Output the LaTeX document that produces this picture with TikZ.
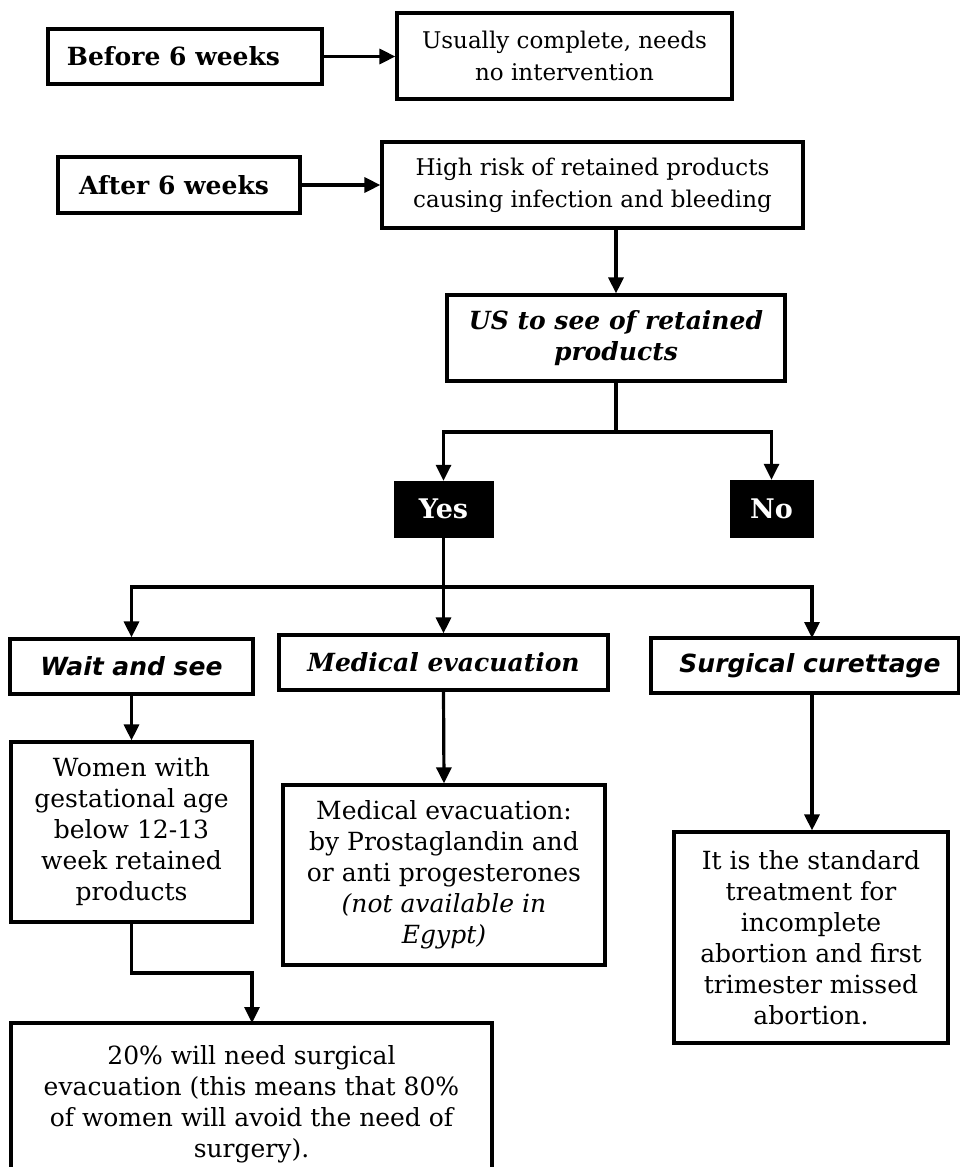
\documentclass[tikz,border=0pt]{standalone}
\usepackage{fontspec}
\setmainfont{DejaVu Serif}
\newfontfamily\altsans{DejaVu Sans}
\usetikzlibrary{arrows.meta}
\newcommand{\regA}{\rmfamily\fontsize{23}{31.7}\selectfont}
\newcommand{\regB}{\rmfamily\fontsize{25}{31}\selectfont}
\newcommand{\boldB}{\rmfamily\fontsize{25}{31}\selectfont\bfseries}
\tikzset{
  box/.style={draw, line width=3.2pt, inner sep=0pt, align=center, font=\regB},
  blk/.style={draw, fill=black, text=white, inner sep=0pt, align=center, font=\rmfamily\fontsize{27}{31}\selectfont\bfseries},
  arr/.style={line width=3.2pt, -{Triangle[length=16pt,width=15pt]}},
  conn/.style={line width=3.2pt}
}
\begin{document}
\begin{tikzpicture}[x=1pt,y=-1pt]
\useasboundingbox (0,0) rectangle (960,1167);
\clip (0,0) rectangle (960,1167);
% top
\node[box, minimum width=274pt, minimum height=55pt, font=\boldB] (before) at (185,56.5) {Before 6 weeks\hspace*{23pt}};
\node[box, minimum width=335pt, minimum height=86pt, font=\regA] (usually) at (564.5,56) {Usually complete, needs\\no intervention};
\node[box, minimum width=242pt, minimum height=56pt, font=\boldB] (after) at (179,185) {After 6 weeks\hspace*{10pt}};
\node[box, minimum width=421pt, minimum height=86pt, font=\regA] (high) at (592.5,185) {High risk of retained products\\causing infection and bleeding};
\node[box, minimum width=338pt, minimum height=86pt, font=\boldB\itshape] (us) at (616,338) {US to see of retained\\products};
\node[blk, minimum width=99pt, minimum height=56pt] (yes) at (443.5,509) {Yes};
\node[blk, minimum width=83pt, minimum height=57pt] (no) at (771.5,508.5) {No};
\node[box, minimum width=243pt, minimum height=55pt, font=\altsans\fontsize{25}{31}\selectfont\bfseries\itshape] (wait) at (131.5,666.5) {Wait and see};
\node[box, minimum width=329pt, minimum height=55pt, font=\boldB\itshape] (medevac) at (443.5,662.5) {Medical evacuation};
\node[box, minimum width=308pt, minimum height=55pt, font=\altsans\fontsize{25}{31}\selectfont\bfseries\itshape] (surg) at (805,665.5) {\hspace*{10pt}Surgical curettage};
\node[box, minimum width=241pt, minimum height=180pt] (women) at (131.5,832) {Women with\\gestational age\\below 12-13\\week retained\\products};
\node[box, minimum width=322pt, minimum height=180pt] (medtext) at (444,875) {Medical evacuation:\\by Prostaglandin and\\or anti progesterones\\\textit{(not available in}\\\textit{Egypt)}};
\node[box, minimum width=274pt, minimum height=211pt] (std) at (811,937.5) {It is the standard\\treatment for\\incomplete\\abortion and first\\trimester missed\\abortion.};
\node[box, minimum width=481pt, minimum height=162pt] (twenty) at (251.5,1104) {20\% will need surgical\\evacuation (this means that 80\%\\of women will avoid the need of\\surgery).};
% connectors
\draw[arr] (before.east) -- (before.east -| usually.west);
\draw[arr] (after.east) -- (after.east -| high.west);
\draw[arr] (us.north |- high.south) -- (us.north);
\coordinate (ubr) at (616,432);
\draw[conn] (us.south) -- (ubr);
\draw[arr] (ubr) -| (yes.north);
\draw[arr] (ubr) -| (no.north);
\coordinate (ybr) at (443.5,587);
\draw[conn] (yes.south) -- (ybr);
\draw[arr] (ybr) -| (wait.north);
\draw[arr] (ybr) -- (medevac.north);
\coordinate (sarr) at (812,638);
\draw[arr] (ybr) -| (sarr);
\coordinate (sdown) at (812,693);
\draw[arr] (sdown) -- (sdown |- std.north);
\draw[arr] (wait.south) -- (women.north);
\draw[arr] (medevac.south) -- (medtext.north);
\coordinate (wbend) at (131.5,973);
\draw[arr] (women.south) -- (wbend) -| (252,1023);
\end{tikzpicture}
\end{document}
